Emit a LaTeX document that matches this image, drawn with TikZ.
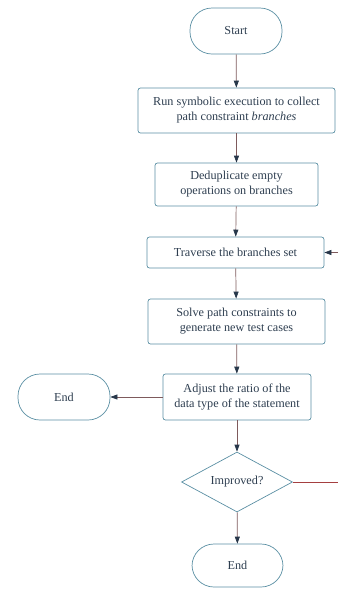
\documentclass[tikz,border=0pt]{standalone}
\usepackage{fontspec}
\setmainfont{Liberation Serif}
\usetikzlibrary{shapes.geometric,arrows.meta}
\definecolor{nodeline}{HTML}{5A8FA3}
\definecolor{txt}{HTML}{2E3E50}
\definecolor{conn}{HTML}{7E5A5C}
\definecolor{tipc}{HTML}{27374A}
\tikzset{
  base/.style={draw=nodeline, line width=0.7pt, text=txt, align=center, inner sep=1pt,
    font=\fontsize{12.2}{15}\selectfont},
  procbox/.style={base, rectangle, rounded corners=2.5pt},
  term/.style={base, rectangle, rounded corners=22pt, minimum width=92pt, minimum height=46pt},
  decide/.style={base, diamond, aspect=1.85, inner sep=0pt, minimum width=111pt, minimum height=60pt},
  conn/.style={draw=conn, line width=0.7pt, -{Triangle[width=5pt,length=7pt,fill=tipc,color=tipc]}},
  plain/.style={draw=conn!70!red, line width=0.7pt}
}
\begin{document}
\begin{tikzpicture}[x=1pt,y=-1pt]
\useasboundingbox (0,0) rectangle (338,590);
\node[term] (start) at (236,31) {Start};
\node[procbox, minimum width=197pt, minimum height=45pt] (b1) at (236.5,110.5)
  {Run symbolic execution to collect\\path constraint \textit{branches}};
\node[procbox, minimum width=163pt, minimum height=43pt] (b2) at (236.5,184.5)
  {Deduplicate empty\\operations on branches};
\node[procbox, minimum width=177pt, minimum height=31pt] (b3) at (235.5,252.5)
  {Traverse the branches set};
\node[procbox, minimum width=177pt, minimum height=45pt] (b4) at (236.5,321.5)
  {Solve path constraints to\\generate new test cases};
\node[procbox, minimum width=148pt, minimum height=46pt] (b5) at (237,397)
  {Adjust the ratio of the\\data type of the statement};
\node[term] (endL) at (64,397) {End};
\node[decide] (dia) at (237,482) {Improved?};
\node[term, minimum width=91pt, minimum height=43pt] (endB) at (237.5,565.5) {End};
\coordinate (loopA) at (338,482);
\coordinate (loopB) at (338,252.5);
\draw[conn] (start) -- (b1);
\draw[conn] (b1) -- (b2);
\draw[conn] (b2) -- (b3);
\draw[conn] (b3) -- (b4);
\draw[conn] (b4) -- (b5);
\draw[conn] (b5.west) -- (endL.east);
\draw[conn] (b5) -- (dia);
\draw[conn] (dia) -- (endB);
\draw[plain] (dia.east) -- (loopA);
\draw[conn] (loopB) -- (b3.east);
\end{tikzpicture}
\end{document}
